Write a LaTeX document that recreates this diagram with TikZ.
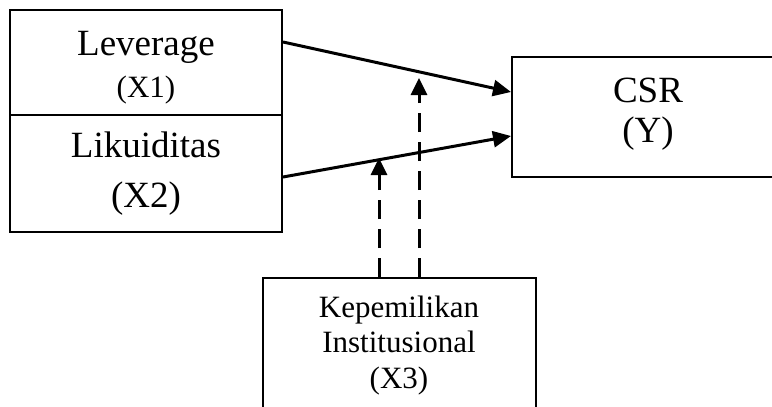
\documentclass[tikz,border=0pt]{standalone}
\usepackage{fontspec}
\setmainfont{Liberation Serif}
\usetikzlibrary{arrows.meta}

\begin{document}
\begin{tikzpicture}[x=1pt,y=-1pt,
  box/.style={draw,line width=2pt,rectangle,inner sep=0pt},
  big/.style={font=\fontsize{37}{44}\selectfont,anchor=base,inner sep=0pt},
  mid/.style={font=\fontsize{31}{37}\selectfont,anchor=base,inner sep=0pt},
  link/.style={line width=3pt,-{Triangle[length=18pt,width=16pt]}},
  modlink/.style={line width=3pt,dash pattern=on 19pt off 10pt,
    -{Triangle[length=17pt,width=16pt]}}]
\useasboundingbox (0,0) rectangle (772,407);
\clip (0,0) rectangle (772,407);

% boxes
\node[box,minimum width=272pt,minimum height=105pt] (lev) at (146,62.5) {};
\node[box,minimum width=272pt,minimum height=117pt] (lik) at (146,173.5) {};
\node[box,minimum width=272pt,minimum height=120pt] (csr) at (648,117) {};
\node[box,minimum width=273pt,minimum height=140pt] (inst) at (399.5,348) {};

% labels
\node[big] (levt) at (146,55) {Leverage};
\node[mid] (levx) at (146,97) {(X1)};
\node[big] (likt) at (146,157) {Likuiditas};
\node[big] (likx) at (146,207) {(X2)};
\node[big] (csrt) at (648,102) {CSR};
\node[big] (csrx) at (648,142) {(Y)};
\node[mid] (inst1) at (399,317) {Kepemilikan};
\node[mid] (inst2) at (399,352) {Institusional};
\node[mid] (inst3) at (399,388) {(X3)};

% direct effects
\draw[link] ([yshift=20.5pt]lev.east) -- ([yshift=25pt]csr.west);
\draw[link] ([yshift=-3.5pt]lik.east) -- ([yshift=-19pt]csr.west);

% moderating effects
\coordinate (m1) at (379,158);
\coordinate (m2) at (419,78);
\draw[modlink] ([xshift=-20.5pt]inst.north) -- (m1);
\draw[modlink] ([xshift=19.5pt]inst.north) -- (m2);
\end{tikzpicture}
\end{document}
